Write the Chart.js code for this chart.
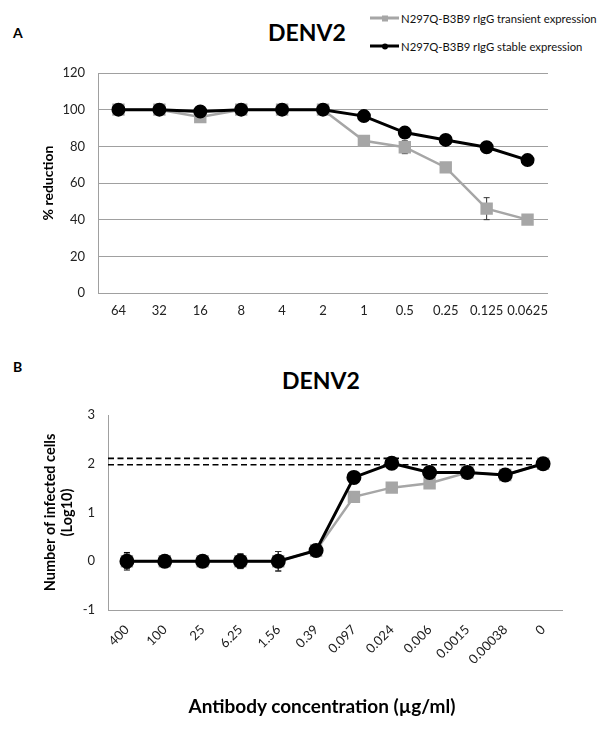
<!DOCTYPE html>
<html><head><meta charset="utf-8">
<script src="https://cdn.jsdelivr.net/npm/chart.js@4/dist/chart.umd.min.js"></script>
<style>
html,body{margin:0;padding:0;background:#fff;}
#wrap{position:relative;width:601px;height:732px;overflow:hidden;font-family:Lato,"Open Sans",sans-serif;color:#000;}
.t{position:absolute;white-space:nowrap;line-height:1;transform:translateY(-50%);font-weight:bold;}
.tc{position:absolute;white-space:nowrap;line-height:1;transform:translate(-50%,-50%);font-weight:bold;}
canvas{position:absolute;left:0;}
.leg{position:absolute;left:370px;font-size:11.3px;color:#111;display:flex;align-items:center;transform:translateY(-50%);white-space:nowrap;}
.leg .ln{position:relative;width:29px;margin-right:2px;}
.leg .mk{position:absolute;left:50%;top:50%;transform:translate(-50%,-50%);}
</style></head>
<body><div id="wrap">
<div class="t" style="left:13px;top:33px;font-size:14px;">A</div>
<div class="t" style="left:268px;top:32px;font-size:23px;">DENV2</div>
<div id="legend"></div>
<canvas id="c1" width="601" height="330" style="top:0"></canvas>
<div class="t" style="left:13px;top:367px;font-size:14px;">B</div>
<div class="t" style="left:282px;top:380px;font-size:23px;">DENV2</div>
<canvas id="c2" width="601" height="392" style="top:340px"></canvas>
<div class="tc" id="xTitleB" style="left:322px;top:705px;font-size:19px;"></div>
</div>
<script>
// ---- data ----
const seriesNames = ['N297Q-B3B9 rIgG transient expression', 'N297Q-B3B9 rIgG stable expression'];

const doseLabelsA = ['64','32','16','8','4','2','1','0.5','0.25','0.125','0.0625'];
const transientA = [100,100,96,100,100,100,83,79.5,68.5,46,40];
const transientErrA = [0,0.5,1,0,0,0.5,1,3.5,1,6,1];
const stableA = [100,100,99,100,100,100,96.5,87.5,83.5,79.5,72.5];
const stableErrA = [0.5,0.5,1,0.5,0.5,0.5,1,1,1,1,1];
const yTicksA = [0,20,40,60,80,100,120];

const concLabelsB = ['400','100','25','6.25','1.56','0.39','0.097','0.024','0.006','0.0015','0.00038','0'];
const transientB = [0,0,0,0,0,0.22,1.32,1.51,1.6,1.82,1.77,2.0];
const transientErrB = [0.15,0.1,0.05,0.15,0.2,0.03,0.05,0.1,0.05,0.05,0.03,0.05];
const stableB = [0,0,0,0,0,0.22,1.72,2.01,1.82,1.82,1.77,2.0];
const stableErrB = [0.18,0.12,0.05,0.15,0.2,0.03,0.05,0.08,0.05,0.05,0.03,0.05];
const yTicksB = [-1,0,1,2,3];
const cutoffB = [2.11, 1.98];
const xTitleB = 'Antibody concentration (µg/ml)';

const GRAY = '#a6a6a6';
const FONT = 'Lato, "Open Sans", sans-serif';

document.getElementById('xTitleB').textContent = xTitleB;

// ---- legend (HTML) ----
const legend = document.getElementById('legend');
const legendRows = [
  {name: seriesNames[0], color: GRAY, lw: 3, mk: 'sq', top: 18},
  {name: seriesNames[1], color: '#000', lw: 3, mk: 'ci', top: 46}
];
legendRows.forEach(r => {
  const d = document.createElement('div');
  d.className = 'leg';
  d.style.top = r.top + 'px';
  const ln = document.createElement('span');
  ln.className = 'ln';
  ln.style.height = r.lw + 'px';
  ln.style.background = r.color;
  const mk = document.createElement('span');
  mk.className = 'mk';
  mk.style.width = '6px'; mk.style.height = '6px';
  mk.style.background = r.color;
  if (r.mk === 'ci') mk.style.borderRadius = '50%';
  ln.appendChild(mk);
  d.appendChild(ln);
  const tx = document.createElement('span');
  tx.textContent = r.name;
  d.appendChild(tx);
  legend.appendChild(d);
});

// ---- plugins ----
const errorBars = {
  id: 'errorBars',
  beforeDatasetsDraw(chart) {
    const ctx = chart.ctx, y = chart.scales.y;
    chart.data.datasets.forEach((ds, i) => {
      if (!ds.errors) return;
      const meta = chart.getDatasetMeta(i);
      ctx.save();
      ctx.strokeStyle = ds.errorColor || '#000';
      ctx.lineWidth = 1;
      meta.data.forEach((pt, j) => {
        const e = ds.errors[j];
        if (!e) return;
        const v = ds.data[j];
        const y1 = y.getPixelForValue(v + e), y2 = y.getPixelForValue(v - e);
        const x = pt.x;
        ctx.beginPath();
        ctx.moveTo(x, y1); ctx.lineTo(x, y2);
        ctx.moveTo(x - 3, y1); ctx.lineTo(x + 3, y1);
        ctx.moveTo(x - 3, y2); ctx.lineTo(x + 3, y2);
        ctx.stroke();
      });
      ctx.restore();
    });
  }
};

const cutoffLines = {
  id: 'cutoffLines',
  beforeDatasetsDraw(chart, args, opts) {
    if (!opts.values) return;
    const ctx = chart.ctx, y = chart.scales.y, a = chart.chartArea;
    ctx.save();
    ctx.strokeStyle = '#000';
    ctx.lineWidth = 1.6;
    ctx.setLineDash([6, 3.5]);
    opts.values.forEach(v => {
      const py = y.getPixelForValue(v);
      ctx.beginPath();
      ctx.moveTo(a.left, py);
      ctx.lineTo(a.right - 30, py);
      ctx.stroke();
    });
    ctx.restore();
  }
};

Chart.defaults.font.family = FONT;
Chart.defaults.color = '#222';

// ---- chart A ----
new Chart(document.getElementById('c1'), {
  type: 'line',
  data: {
    labels: doseLabelsA,
    datasets: [
      {label: seriesNames[1], data: stableA, errors: stableErrA, errorColor: '#000',
       borderColor: '#000', backgroundColor: '#000', borderWidth: 3,
       pointStyle: 'circle', pointRadius: 5.5, tension: 0},
      {label: seriesNames[0], data: transientA, errors: transientErrA, errorColor: '#333',
       borderColor: GRAY, backgroundColor: GRAY, borderWidth: 2.5,
       pointStyle: 'rect', pointRadius: 7, tension: 0}
    ]
  },
  options: {
    responsive: false, animation: false, devicePixelRatio: 1,
    layout: {padding: {left: 0, right: 53, top: 73, bottom: 0}},
    plugins: {legend: {display: false}, tooltip: {enabled: false}, cutoffLines: {}},
    scales: {
      x: {
        offset: true,
        grid: {display: false, drawTicks: false}, border: {display: false},
        ticks: {font: {size: 13}, padding: 10, maxRotation: 0, autoSkip: false},
        afterFit(s) { s.height = 37; }
      },
      y: {
        min: 0, max: 120,
        afterBuildTicks(s) { s.ticks = yTicksA.map(v => ({value: v})); },
        grid: {color: '#a0a0a0', drawTicks: false, lineWidth: 1},
        border: {display: true, color: '#a0a0a0'},
        ticks: {font: {size: 13}, padding: 13},
        title: {display: true, text: '% reduction', font: {size: 14, weight: 'bold'}, color: '#000', padding: {top: 40, bottom: 0}},
        afterFit(s) { s.width = 98; }
      }
    }
  },
  plugins: [errorBars, cutoffLines]
});

// ---- chart B ----
new Chart(document.getElementById('c2'), {
  type: 'line',
  data: {
    labels: concLabelsB,
    datasets: [
      {label: seriesNames[1], data: stableB, errors: stableErrB, errorColor: '#000',
       borderColor: '#000', backgroundColor: '#000', borderWidth: 3,
       pointStyle: 'circle', pointRadius: 6, tension: 0},
      {label: seriesNames[0], data: transientB, errors: transientErrB, errorColor: '#333',
       borderColor: GRAY, backgroundColor: GRAY, borderWidth: 2.5,
       pointStyle: 'rect', pointRadius: 7, tension: 0}
    ]
  },
  options: {
    responsive: false, animation: false, devicePixelRatio: 1,
    layout: {padding: {left: 0, right: 39, top: 75, bottom: 0}},
    plugins: {legend: {display: false}, tooltip: {enabled: false}, cutoffLines: {values: cutoffB}},
    scales: {
      x: {
        offset: true,
        grid: {display: false},
        border: {display: true, color: '#a0a0a0'},
        ticks: {font: {size: 13}, padding: 4, minRotation: 45, maxRotation: 45, autoSkip: false},
        afterFit(s) { s.height = 122; }
      },
      y: {
        min: -1, max: 3,
        afterBuildTicks(s) { s.ticks = yTicksB.map(v => ({value: v})); },
        grid: {display: false, drawTicks: false},
        border: {display: true, color: '#a0a0a0'},
        ticks: {font: {size: 13}, padding: 13},
        title: {display: true, text: ['Number of infected cells', '(Log10)'], font: {size: 14.5, weight: 'bold', lineHeight: 1.17}, color: '#000', padding: {top: 41.5, bottom: 0}},
        afterFit(s) { s.width = 108; }
      }
    }
  },
  plugins: [errorBars, cutoffLines]
});
</script>
</body></html>
